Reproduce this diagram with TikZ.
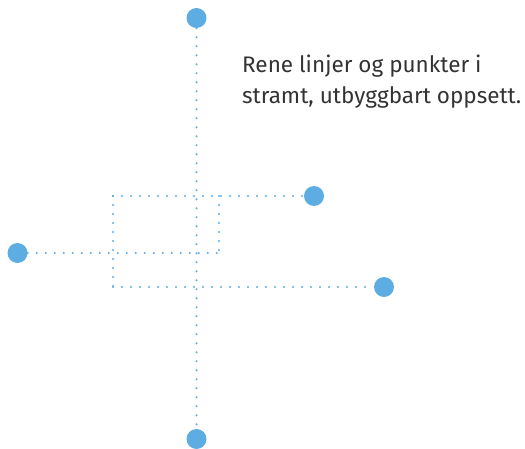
\documentclass[tikz,border=0pt]{standalone}
\usepackage{fontspec}
\setmainfont{Fira Sans}
\definecolor{dotblue}{HTML}{5DADE2}
\definecolor{txt}{HTML}{333333}
\begin{document}
\begin{tikzpicture}[x=1pt,y=-1pt,
  bigdot/.style={circle,fill=dotblue,minimum size=20pt,inner sep=0pt},
  dline/.style={draw=dotblue,line width=2.2pt,line cap=round,dash pattern=on 0pt off 9pt},
  label/.style={anchor=base west,align=left,text=txt,font=\fontsize{22.5}{30.6}\selectfont,inner sep=0pt}]
\useasboundingbox (0,0) rectangle (525,449);
% dots
\node[bigdot] (top) at (196.5,18) {};
\node[bigdot] (bot) at (196.5,439) {};
\node[bigdot] (left) at (17.5,253) {};
\node[bigdot] (ru) at (314,196) {};
\node[bigdot] (rl) at (384,287) {};
% corners
\coordinate (tl) at (113,196);
\coordinate (bl) at (113,287);
\coordinate (mi) at (219,253);
\coordinate (mt) at (219,196);
% lines
\draw[dline] (top) -- (bot);
\draw[dline] (tl) -- (ru);
\draw[dline] (bl) -- (rl);
\draw[dline] (tl) -- (bl);
\draw[dline] (left) -- (mi);
\draw[dline] (mt) -- (mi);
% text
\node[label] (t) at (242,103.3) {Rene linjer og punkter i\\stramt, utbyggbart oppsett.};
\end{tikzpicture}
\end{document}
